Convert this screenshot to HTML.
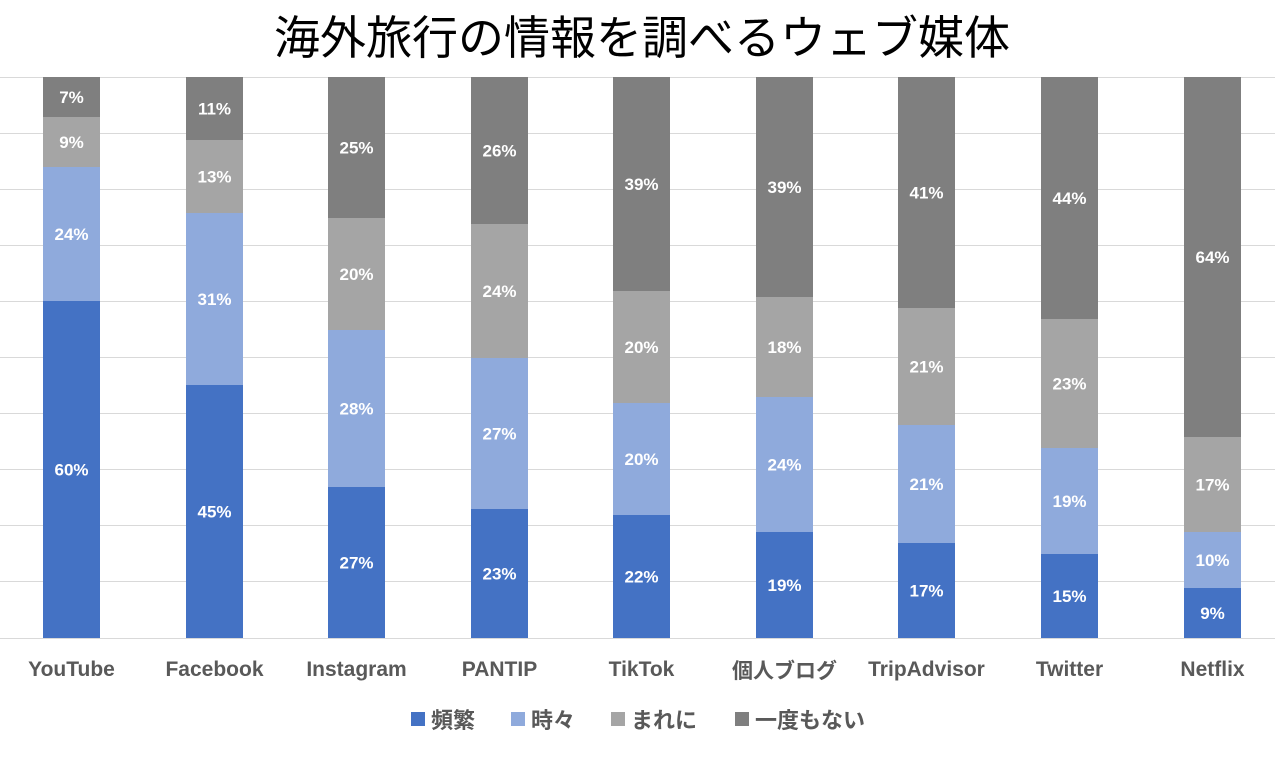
<!DOCTYPE html>
<html><head><meta charset="utf-8"><style>
html,body{margin:0;padding:0;background:#fff;}
svg text{font-family:"Liberation Sans","Noto Sans CJK JP",sans-serif;}
</style></head><body>
<svg width="1277" height="754" xmlns="http://www.w3.org/2000/svg">
<rect width="1277" height="754" fill="#fff"/>
<text x="642" y="54" font-size="46" text-anchor="middle" fill="#000">海外旅行の情報を調べるウェブ媒体</text>
<g stroke="#d9d9d9" stroke-width="1">
<line x1="0" x2="1275" y1="77.5" y2="77.5"/><line x1="0" x2="1275" y1="133.5" y2="133.5"/>
<line x1="0" x2="1275" y1="189.5" y2="189.5"/><line x1="0" x2="1275" y1="245.5" y2="245.5"/>
<line x1="0" x2="1275" y1="301.5" y2="301.5"/><line x1="0" x2="1275" y1="357.5" y2="357.5"/>
<line x1="0" x2="1275" y1="413.5" y2="413.5"/><line x1="0" x2="1275" y1="469.5" y2="469.5"/>
<line x1="0" x2="1275" y1="525.5" y2="525.5"/><line x1="0" x2="1275" y1="581.5" y2="581.5"/>
<line x1="0" x2="1275" y1="638.5" y2="638.5"/>
</g>
<g id="bars"></g>
<g font-size="17" font-weight="bold" fill="#fff" text-anchor="middle" id="labels"></g>
<g font-size="21" font-weight="bold" fill="#595959" text-anchor="middle" id="cats"></g>
<g font-size="22" font-weight="bold" fill="#595959">
<rect x="411" y="712" width="14" height="14" fill="#4472C4"/><text x="431" y="728">頻繁</text>
<rect x="511" y="712" width="14" height="14" fill="#8FAADC"/><text x="531" y="728">時々</text>
<rect x="611" y="712" width="14" height="14" fill="#A5A5A5"/><text x="631" y="728">まれに</text>
<rect x="735" y="712" width="14" height="14" fill="#7F7F7F"/><text x="755" y="728">一度もない</text>
</g>
<script>
var data=[
["YouTube",43,[301,167,117],["60%","24%","9%","7%"]],
["Facebook",186,[385,213,140],["45%","31%","13%","11%"]],
["Instagram",328,[487,330,218],["27%","28%","20%","25%"]],
["PANTIP",471,[509,358,224],["23%","27%","24%","26%"]],
["TikTok",613,[515,403,291],["22%","20%","20%","39%"]],
["個人ブログ",756,[532,397,297],["19%","24%","18%","39%"]],
["TripAdvisor",898,[543,425,308],["17%","21%","21%","41%"]],
["Twitter",1041,[554,448,319],["15%","19%","23%","44%"]],
["Netflix",1184,[588,532,437],["9%","10%","17%","64%"]]];
var cols=["#4472C4","#8FAADC","#A5A5A5","#7F7F7F"];
var ns="http://www.w3.org/2000/svg";
var B=document.getElementById("bars"),L=document.getElementById("labels"),C=document.getElementById("cats");
data.forEach(function(d){
 var ys=[638].concat(d[2]).concat([77]);
 for(var i=0;i<4;i++){
  var r=document.createElementNS(ns,"rect");
  r.setAttribute("x",d[1]);r.setAttribute("width",57);
  r.setAttribute("y",ys[i+1]);r.setAttribute("height",ys[i]-ys[i+1]);
  r.setAttribute("fill",cols[i]);B.appendChild(r);
  var t=document.createElementNS(ns,"text");
  t.setAttribute("x",d[1]+28.5);t.setAttribute("y",(ys[i]+ys[i+1])/2+6);
  t.textContent=d[3][i];L.appendChild(t);
 }
 var c=document.createElementNS(ns,"text");
 c.setAttribute("x",d[1]+28.5);c.setAttribute("y",d[0]=="個人ブログ"?678:676);
 c.textContent=d[0];C.appendChild(c);
});
</script>
</svg>
</body></html>
